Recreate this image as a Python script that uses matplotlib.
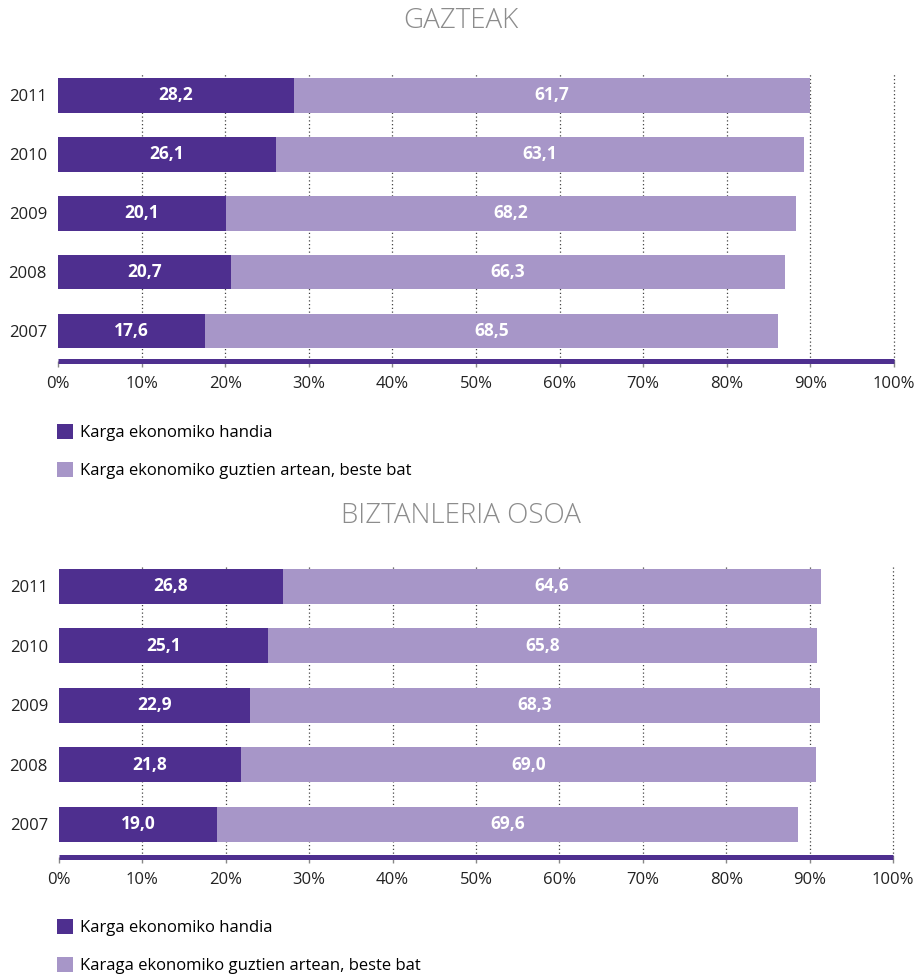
import matplotlib.pyplot as plt

plt.rcParams['font.family'] = ['Open Sans', 'DejaVu Sans']

# data
years = ['2007', '2008', '2009', '2010', '2011']
gazte_handia = [17.6, 20.7, 20.1, 26.1, 28.2]
gazte_beste = [68.5, 66.3, 68.2, 63.1, 61.7]
osoa_handia = [19.0, 21.8, 22.9, 25.1, 26.8]
osoa_beste = [69.6, 69.0, 68.3, 65.8, 64.6]
ticks = [0, 10, 20, 30, 40, 50, 60, 70, 80, 90, 100]
tick_labels = [f'{t}%' for t in ticks]

dark = '#4e2f8f'
light = '#a796c8'

W, H = 917, 976
fig = plt.figure(figsize=(W / 100, H / 100), dpi=100)


def px_rect(left, right, top, bottom):
    return [left / W, 1 - bottom / H, (right - left) / W, (bottom - top) / H]


def fmt(v):
    return f'{v:.1f}'.replace('.', ',')


def draw_panel(rect, ylim, handia, beste, title, title_y, legend_y, labels):
    ax = fig.add_axes(rect)
    ypos = list(range(len(years)))
    h = 0.59
    b1 = ax.barh(ypos, handia, height=h, color=dark, zorder=3)
    b2 = ax.barh(ypos, beste, left=handia, height=h, color=light, zorder=3)
    for y, a, b in zip(ypos, handia, beste):
        ax.text(a / 2, y, fmt(a), ha='center', va='center', color='white',
                fontsize=12.5, fontweight='bold', zorder=4)
        ax.text(a + b / 2, y, fmt(b), ha='center', va='center', color='white',
                fontsize=12.5, fontweight='bold', zorder=4)
    for t in ticks[1:]:
        ax.axvline(t, color='#444444', linestyle=(0, (1, 2)), linewidth=0.9,
                   zorder=1, clip_on=False)
    ax.set_xlim(0, 100)
    ax.set_ylim(*ylim)
    ax.set_xticks(ticks)
    ax.set_xticklabels(tick_labels, fontsize=12, color='#222222')
    ax.set_yticks(ypos)
    ax.set_yticklabels(years, fontsize=12, color='#222222')
    ax.tick_params(axis='y', length=0, pad=8)
    ax.tick_params(axis='x', length=4, width=1, color='#888888', pad=7)
    for s in ['top', 'right', 'left']:
        ax.spines[s].set_visible(False)
    ax.spines['bottom'].set_color(dark)
    ax.spines['bottom'].set_linewidth(3.6)
    ax.spines['bottom'].set_capstyle('butt')
    fig.text(0.503, 1 - title_y / H, title, ha='center', va='center',
             fontsize=20, color='#8c8c8c', fontweight='light')
    fig.legend([b1, b2], labels, loc='upper left',
               bbox_to_anchor=(50 / W, 1 - legend_y / H), frameon=False,
               fontsize=12, handlelength=1.0, handleheight=1.0,
               handletextpad=0.4, labelspacing=1.25, borderaxespad=0)
    return ax


draw_panel(px_rect(58, 894, 73, 361), (-0.51, 4.38), gazte_handia, gazte_beste,
           'GAZTEAK', 21, 417,
           ['Karga ekonomiko handia', 'Karga ekonomiko guztien artean, beste bat'])
draw_panel(px_rect(59, 893, 565, 857), (-0.55, 4.36), osoa_handia, osoa_beste,
           'BIZTANLERIA OSOA', 516, 912,
           ['Karga ekonomiko handia', 'Karaga ekonomiko guztien artean, beste bat'])

fig.savefig('out.png', dpi=100)
